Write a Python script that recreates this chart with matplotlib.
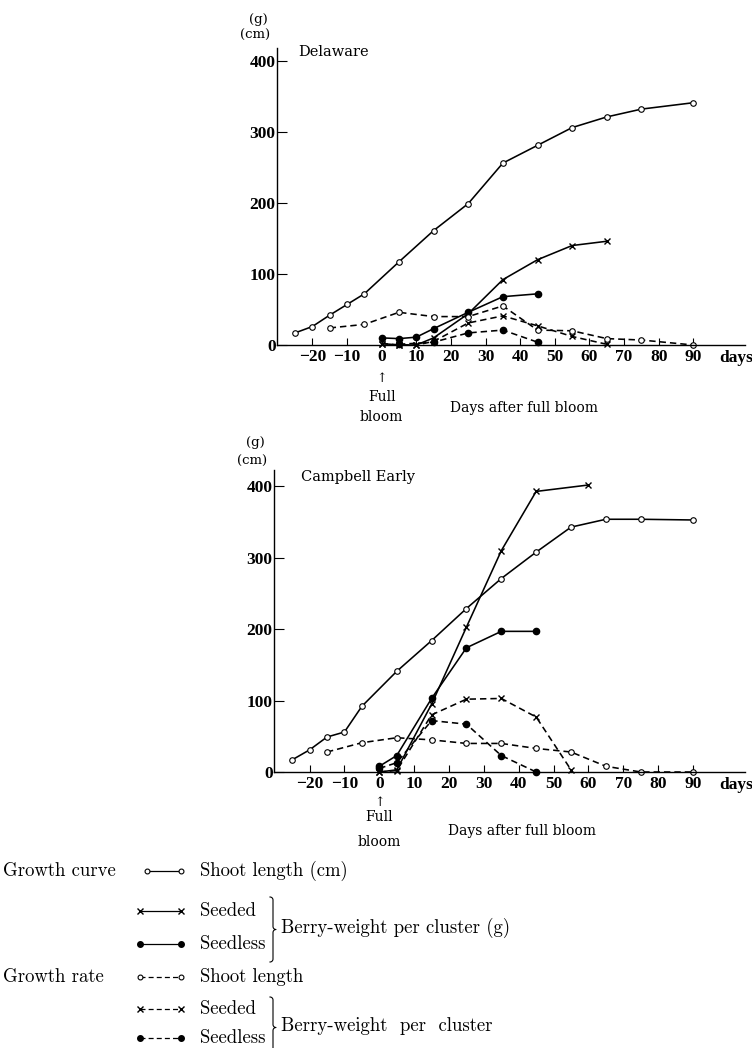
import numpy as np
import matplotlib.pyplot as plt
from matplotlib.lines import Line2D

# ---- data (days after full bloom) ----
shoot_days = [-25, -20, -15, -10, -5, 5, 15, 25, 35, 45, 55, 65, 75, 90]
rate_days = [-15, -5, 5, 15, 25, 35, 45, 55, 65, 75, 90]

# Delaware
del_shoot_len = [17, 26, 42, 57, 72, 117, 161, 199, 256, 281, 306, 321, 332, 341]
del_seeded_days = [0, 5, 10, 15, 25, 35, 45, 55, 65]
del_seeded_wt = [2, 0, 0, 10, 44, 92, 120, 140, 146]
del_seedless_days = [0, 5, 10, 15, 25, 35, 45]
del_seedless_wt = [10, 9, 11, 23, 46, 68, 72]
del_shoot_rate = [24, 29, 46, 40, 40, 55, 21, 20, 9, 7, 0]
del_seeded_rate_days = [0, 5, 10, 15, 25, 35, 45, 55, 65]
del_seeded_rate = [2, 0, 0, 5, 31, 41, 27, 12, 1]
del_seedless_rate_days = [5, 15, 25, 35, 45]
del_seedless_rate = [1, 4, 17, 21, 4]

# Campbell Early
cam_shoot_len = [17, 31, 49, 56, 92, 141, 184, 229, 271, 308, 343, 354, 354, 353]
cam_seeded_days = [0, 5, 15, 25, 35, 45, 60]
cam_seeded_wt = [0, 3, 95, 203, 310, 393, 402]
cam_seedless_days = [0, 5, 15, 25, 35, 45]
cam_seedless_wt = [8, 23, 103, 174, 197, 197]
cam_shoot_rate = [28, 41, 48, 45, 40, 40, 33, 28, 8, 0, 0]
cam_seeded_rate_days = [0, 5, 15, 25, 35, 45, 55]
cam_seeded_rate = [0, 2, 80, 102, 103, 77, 3]
cam_seedless_rate_days = [0, 5, 15, 25, 35, 45]
cam_seedless_rate = [5, 13, 72, 67, 23, 0]

xticks = [-20, -10, 0, 10, 20, 30, 40, 50, 60, 70, 80, 90]
xticklabels = ['\u221220', '\u221210', '0', '10', '20', '30', '40', '50', '60', '70', '80', '90']
yticks = [0, 100, 200, 300, 400]

W, H = 752, 1048
fig = plt.figure(figsize=(W / 100, H / 100), dpi=100)
SERIF = 'DejaVu Serif'
TICKF = 'Liberation Serif'
LEG = 'cmr10'


def fx(px):
    return px / W


def fy(py):
    return 1 - py / H


# marker styles
OPEN = dict(marker='o', ms=4, mfc='white', mec='black', mew=0.8)
CROSS = dict(marker='x', ms=5, mec='black', mew=1.0)
FILLED = dict(marker='o', ms=4.5, mfc='black', mec='black')
SOLID = dict(ls='-', lw=1.15, color='black')
DASHED = dict(ls=(0, (4, 2.5)), lw=1.15, color='black')


def panel(rect, ytop, name, name_pos, unit_offs, series, offs):
    ax = fig.add_axes(rect)
    for d, v, ls, mk in series:
        ax.plot(d, v, **ls, **mk, clip_on=False)
    ax.set_xlim(-30.2, 104.9)
    ax.set_ylim(0, ytop)
    ax.spines['top'].set_visible(False)
    ax.spines['right'].set_visible(False)
    ax.spines['left'].set_linewidth(1.0)
    ax.spines['bottom'].set_linewidth(1.0)
    ax.set_xticks(xticks)
    ax.set_xticklabels(xticklabels, fontfamily=TICKF, fontsize=12.5, fontweight='bold')
    ax.set_yticks(yticks)
    ax.set_yticklabels([str(t) for t in yticks], fontfamily=TICKF, fontsize=12.5,
                       fontweight='bold')
    ax.tick_params(axis='x', direction='in', length=5, width=0.8, pad=3)
    ax.tick_params(axis='y', direction='in', length=7, width=0.8, pad=1)
    ax.patch.set_alpha(0)

    ax.text(name_pos[0], name_pos[1], name, transform=ax.transAxes, fontfamily=SERIF,
            fontsize=10.5, va='center', ha='left')
    ax.annotate('(g)', xy=(0, 1), xycoords='axes fraction', xytext=(-19, unit_offs[0]),
                textcoords='offset pixels', ha='center', va='center',
                fontfamily=SERIF, fontsize=9.5)
    ax.annotate('(cm)', xy=(0, 1), xycoords='axes fraction', xytext=(-22, unit_offs[1]),
                textcoords='offset pixels', ha='center', va='center',
                fontfamily=SERIF, fontsize=9.5)
    arrow_y, full_y, bloom_y, days_y = offs
    ax.annotate('\u2191', xy=(0, 0), xycoords='data', xytext=(0, arrow_y),
                textcoords='offset pixels', ha='center', va='center',
                fontfamily=SERIF, fontsize=9)
    ax.annotate('Full', xy=(0, 0), xycoords='data', xytext=(0, full_y),
                textcoords='offset pixels', ha='center', va='center',
                fontfamily=SERIF, fontsize=10)
    ax.annotate('bloom', xy=(0, 0), xycoords='data', xytext=(0, bloom_y),
                textcoords='offset pixels', ha='center', va='center',
                fontfamily=SERIF, fontsize=10)
    ax.annotate('Days after full bloom', xy=(41, 0), xycoords='data',
                xytext=(0, days_y), textcoords='offset pixels', ha='center',
                va='center', fontfamily=SERIF, fontsize=10)
    ax.annotate('days', xy=(97.6, 0), xycoords='data', xytext=(0, -13),
                textcoords='offset pixels', ha='left', va='center',
                fontfamily=TICKF, fontsize=12.5, fontweight='bold')
    return ax


top_series = [
    (shoot_days, del_shoot_len, SOLID, OPEN),
    (del_seeded_days, del_seeded_wt, SOLID, CROSS),
    (del_seedless_days, del_seedless_wt, SOLID, FILLED),
    (rate_days, del_shoot_rate, DASHED, OPEN),
    (del_seeded_rate_days, del_seeded_rate, DASHED, CROSS),
    (del_seedless_rate_days, del_seedless_rate, DASHED, FILLED),
]
bot_series = [
    (shoot_days, cam_shoot_len, SOLID, OPEN),
    (cam_seeded_days, cam_seeded_wt, SOLID, CROSS),
    (cam_seedless_days, cam_seedless_wt, SOLID, FILLED),
    (rate_days, cam_shoot_rate, DASHED, OPEN),
    (cam_seeded_rate_days, cam_seeded_rate, DASHED, CROSS),
    (cam_seedless_rate_days, cam_seedless_rate, DASHED, FILLED),
]

panel([fx(277), fy(345), fx(745) - fx(277), (345 - 48) / H], 418, 'Delaware',
      (0.045, 1 - 4 / 297), (28, 13), top_series, (-34, -52, -72, -63))
panel([fx(274), fy(772), fx(745) - fx(274), (772 - 470) / H], 423, 'Campbell Early',
      (0.057, 1 - 7 / 302), (27, 9), bot_series, (-31, -45, -70, -59))

# ---- legend drawn in figure pixels ----
rows = [871, 911, 944, 977, 1009, 1038]
LFS = 13.5
fig.text(fx(3), fy(rows[0]), 'Growth curve', fontfamily=LEG, fontsize=LFS, va='center')
fig.text(fx(3), fy(rows[3]), 'Growth rate', fontfamily=LEG, fontsize=LFS, va='center')
samples = [(SOLID, OPEN), (SOLID, CROSS), (SOLID, FILLED),
           (DASHED, OPEN), (DASHED, CROSS), (DASHED, FILLED)]
labels = ['Shoot length (cm)', 'Seeded', 'Seedless', 'Shoot length', 'Seeded', 'Seedless']
for y, (ls, mk), lab in zip(rows, samples, labels):
    x0 = 147 if y == rows[0] else 140
    style = dict(ls)
    style['lw'] = 0.9
    mk = dict(mk)
    mk['ms'] = mk['ms'] - 0.5
    fig.add_artist(Line2D([fx(x0), fx(181)], [fy(y), fy(y)], transform=fig.transFigure,
                          **style, **mk))
    fig.text(fx(200), fy(y), lab, fontfamily=LEG, fontsize=LFS, va='center')


def brace(x, y0, y1, r):
    ym = (y0 + y1) / 2
    t = np.linspace(0, np.pi / 2, 12)
    xs = np.concatenate([x + r * np.sin(t), [x + r],
                         x + 2 * r - r * np.cos(t), x + 2 * r - r * np.sin(t),
                         [x + r], x + r * np.cos(t)])
    ys = np.concatenate([y0 + r - r * np.cos(t), [ym - r],
                         ym - r + r * np.sin(t), ym + r - r * np.cos(t),
                         [y1 - r], y1 - r + r * np.sin(t)])
    fig.add_artist(Line2D(fx(xs), fy(ys), transform=fig.transFigure,
                          color='black', lw=0.8))


brace(270, 897, 962, 3)
brace(270, 997, 1058, 3)
fig.text(fx(281), fy(928), 'Berry-weight per cluster (g)', fontfamily=LEG,
         fontsize=LFS, va='center')
fig.text(fx(281), fy(1026), 'Berry-weight  per  cluster', fontfamily=LEG,
         fontsize=LFS, va='center')

fig.savefig('out.png', dpi=100)
